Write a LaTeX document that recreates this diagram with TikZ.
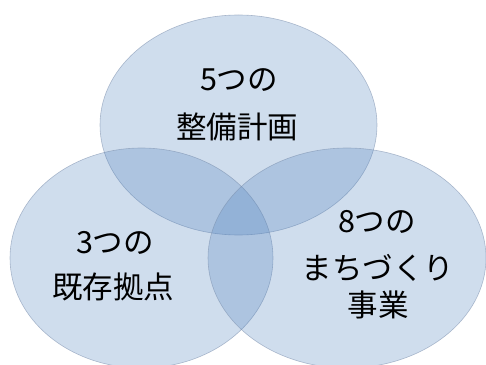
\documentclass[tikz,border=0pt]{standalone}
\usepackage{fontspec}
\newfontfamily\jp{Noto Sans CJK JP}
\usetikzlibrary{shapes.geometric}
\definecolor{vennfill}{RGB}{79,129,189}
\definecolor{vennline}{RGB}{120,140,170}
\tikzset{
  venn/.style={ellipse, inner sep=0pt, fill=vennfill, fill opacity=0.27,
    draw=vennline, draw opacity=0.55, line width=0.6pt},
  lbl/.style={font=\jp\fontsize{30.5}{45}\selectfont, align=center, text=black, inner sep=0pt}
}
\begin{document}
\begin{tikzpicture}[x=1pt,y=1pt]
\useasboundingbox (0,0) rectangle (486,364);
\node[venn, minimum width=277, minimum height=220] (top) at (238.5,239) {};
\node[venn, minimum width=263, minimum height=220] (left) at (141.5,106) {};
\node[venn, minimum width=278, minimum height=220] (right) at (347,106) {};
\node[lbl] (t1) at (239,284) {5つの};
\node[lbl] (t2) at (237,237) {整備計画};
\node[lbl] (l1) at (115,121) {3つの};
\node[lbl] (l2) at (113,77) {既存拠点};
\node[lbl] (r1) at (377,142) {8つの};
\node[lbl] (r2) at (378,96) {まちづくり};
\node[lbl] (r3) at (378,59) {事業};
\end{tikzpicture}
\end{document}
